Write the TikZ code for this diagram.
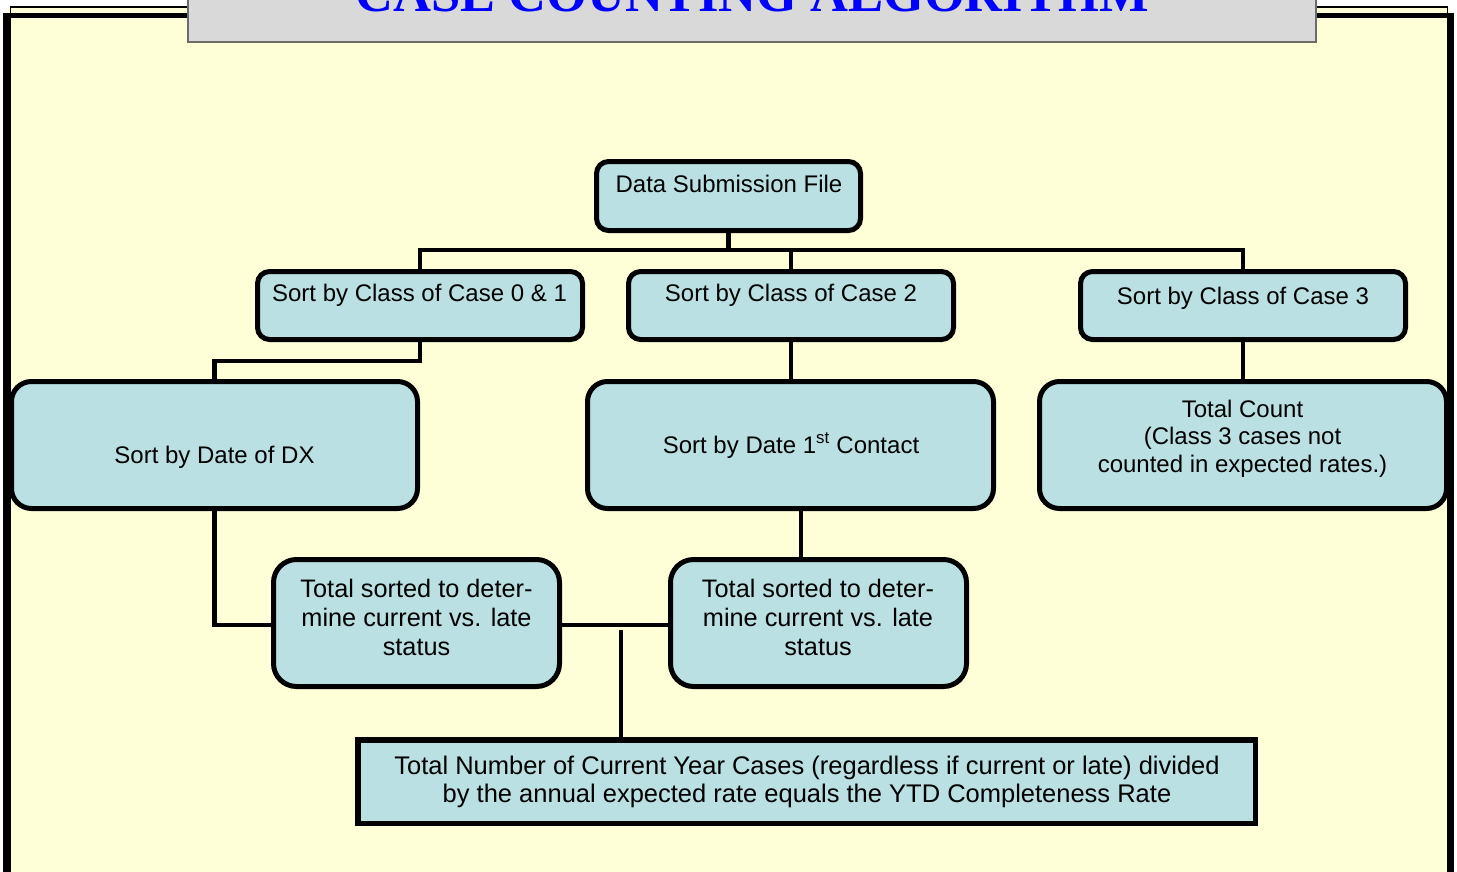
\documentclass[tikz,border=0pt]{standalone}
\usepackage{fontspec}
\setmainfont{Liberation Sans}
\newfontfamily\titlefont{Liberation Serif}
\definecolor{bgyellow}{HTML}{FFFFD7}
\definecolor{boxblue}{HTML}{BAE0E3}
\definecolor{titlegray}{HTML}{D9D9D9}
\definecolor{titleedge}{HTML}{6B6B6B}
\begin{document}
\begin{tikzpicture}[x=1pt,y=-1pt,
  rbox/.style={draw=black, line width=5pt, fill=boxblue, rounded corners=#1, inner sep=0pt},
  rbox/.default=12pt,
  conn/.style={draw=black, line width=4.5pt},
  txt/.style={inner sep=0pt, align=center, anchor=base, text=black},
  fa/.style={font=\fontsize{24}{27.5}\selectfont},
  fb/.style={font=\fontsize{25.3}{29}\selectfont},
  fc/.style={font=\fontsize{25.5}{28.5}\selectfont}]
\clip (0,0) rectangle (1457,871);
\fill[white] (0,0) rectangle (1457,871);
% frame
\fill[bgyellow] (8,7) rectangle (1450,880);
\draw[line width=1.5pt] (10.5,880) -- (10.5,7) -- (1447.5,7) -- (1447.5,880);
\draw[line width=7pt] (6.5,880) -- (6.5,12.5);
\draw[line width=5pt] (3,15) -- (1454,15);
\draw[line width=7pt] (1450.5,12.5) -- (1450.5,880);
% title
\draw[fill=titlegray, draw=titleedge, line width=2pt] (188,-10) rectangle (1316,41.5);
\node[anchor=base, inner sep=0pt, text=blue, font=\titlefont\bfseries\fontsize{52.5}{60}\selectfont] (title) at (752,11.5) {CASE COUNTING ALGORITHM};
% boxes
\node[rbox, minimum width=264pt, minimum height=69pt] (data) at (728.5,196) {};
\node[rbox, minimum width=325pt, minimum height=68pt] (c01) at (420,305.5) {};
\node[rbox, minimum width=325pt, minimum height=68pt] (c2) at (791,305.5) {};
\node[rbox, minimum width=325pt, minimum height=68pt] (c3) at (1243,305.5) {};
\node[rbox=20pt, minimum width=406pt, minimum height=127pt] (dx) at (214.5,445) {};
\node[rbox=20pt, minimum width=406pt, minimum height=127pt] (first) at (790.5,445) {};
\node[rbox=20pt, minimum width=407pt, minimum height=127pt] (tcount) at (1243,445) {};
\node[rbox=23pt, minimum width=286pt, minimum height=127pt] (tsl) at (416.5,623) {};
\node[rbox=23pt, minimum width=296pt, minimum height=127pt] (tsr) at (818.5,623) {};
\node[draw=black, line width=5.5pt, fill=boxblue, inner sep=0pt, minimum width=897.5pt, minimum height=83.5pt] (total) at (806.5,781.5) {};
% connectors
\coordinate (bus) at (728.5,250);
\coordinate (dxbend) at (420,361);
\coordinate (join) at (621,630);
\draw[conn] (data.south) -- (bus);
\draw[conn] (c01.north) -- (c01.north |- bus) -- (c3.north |- bus) -- (c3.north);
\draw[conn] (c2.north) -- (c2.north |- bus);
\draw[conn] (c01.south) -- (dxbend) -| (dx.north);
\draw[conn] (c2.south) -- (first.north -| c2.south);
\draw[conn] (c3.south) -- (tcount.north -| c3.south);
\draw[conn] ([xshift=10.5pt]first.south) -- ([xshift=10.5pt]first.south |- tsr.north);
\draw[conn] (dx.south) |- ([yshift=-2pt]tsl.west);
\draw[conn] ([yshift=-2pt]tsl.east) -- ([yshift=-2pt]tsr.west);
\draw[conn] (join) -- (join |- total.north);
% texts (multi-line nodes: base anchor is the last line)
\node[txt, fa] (tdata) at (729,192) {Data Submission File};
\node[txt, fa] (tc01) at (419.5,301) {Sort by Class of Case 0 \& 1};
\node[txt, fa] (tc2) at (791,301) {Sort by Class of Case 2};
\node[txt, fa] (tc3) at (1243,304) {Sort by Class of Case 3};
\node[txt, fa] (tdx) at (214.5,463) {Sort by Date of DX};
\node[txt, fa] (tfirst) at (791,453) {Sort by Date 1\textsuperscript{st} Contact};
\node[txt, fa] (ttcount) at (1242.5,472) {Total Count\\(Class 3 cases not\\counted in expected rates.)};
\node[txt, fb] (ttsl) at (416.5,655) {Total sorted to deter-\\mine current vs. late\\status};
\node[txt, fb] (ttsr) at (818,655) {Total sorted to deter-\\mine current vs. late\\status};
\node[txt, fc] (ttotal) at (807,802.5) {Total Number of Current Year Cases (regardless if current or late) divided\\by the annual expected rate equals the YTD Completeness Rate};
\end{tikzpicture}
\end{document}
